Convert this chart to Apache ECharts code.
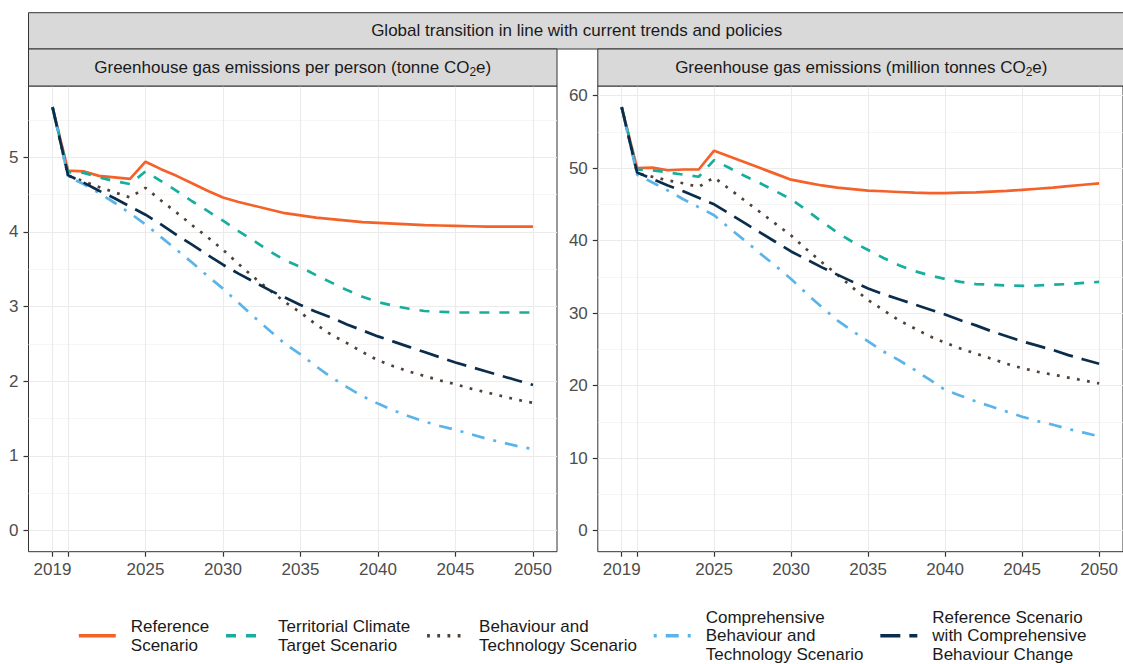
<!DOCTYPE html>
<html>
<head>
<meta charset="utf-8">
<script src="https://cdn.jsdelivr.net/npm/echarts@6/dist/echarts.min.js"></script>
<style>
  html, body { margin: 0; padding: 0; background: #fff; }
  #chart { width: 1123px; height: 664px; }
</style>
</head>
<body>
<div id="chart"></div>
<script>
// years on the x axis
const years = [2019, 2020, 2021, 2022, 2023, 2024, 2025, 2026, 2027, 2028, 2029, 2030,
  2031, 2032, 2033, 2034, 2035, 2036, 2037, 2038, 2039, 2040,
  2041, 2042, 2043, 2044, 2045, 2046, 2047, 2048, 2049, 2050];

const scenarioLabels = [
  'Reference\nScenario',
  'Territorial Climate\nTarget Scenario',
  'Behaviour and\nTechnology Scenario',
  'Comprehensive\nBehaviour and\nTechnology Scenario',
  'Reference Scenario\nwith Comprehensive\nBehaviour Change',
];

// per person (tonne CO2e)
const perPersonRef = [5.67, 4.82, 4.81, 4.75, 4.73, 4.71, 4.94, 4.84, 4.75, 4.65, 4.55, 4.46,
  4.40, 4.35, 4.30, 4.25, 4.22, 4.19, 4.17, 4.15, 4.13, 4.12,
  4.11, 4.10, 4.09, 4.085, 4.08, 4.075, 4.07, 4.07, 4.07, 4.07];
const perPersonTct = [5.67, 4.80, 4.79, 4.73, 4.68, 4.64, 4.81, 4.68, 4.55, 4.41, 4.28, 4.15,
  4.01, 3.88, 3.74, 3.62, 3.53, 3.42, 3.32, 3.22, 3.13, 3.06,
  3.01, 2.97, 2.94, 2.93, 2.92, 2.92, 2.92, 2.92, 2.92, 2.92];
const perPersonBt = [5.67, 4.75, 4.68, 4.60, 4.53, 4.46, 4.59, 4.42, 4.26, 4.09, 3.93, 3.76,
  3.57, 3.39, 3.22, 3.06, 2.92, 2.76, 2.62, 2.51, 2.39, 2.28,
  2.20, 2.13, 2.07, 2.01, 1.96, 1.90, 1.85, 1.80, 1.75, 1.71];
const perPersonCbt = [5.67, 4.74, 4.64, 4.52, 4.39, 4.25, 4.10, 3.93, 3.76, 3.59, 3.41, 3.24,
  3.05, 2.86, 2.68, 2.50, 2.36, 2.20, 2.05, 1.92, 1.80, 1.70,
  1.61, 1.53, 1.46, 1.40, 1.35, 1.29, 1.23, 1.18, 1.13, 1.09];
const perPersonRcbc = [5.67, 4.76, 4.66, 4.55, 4.45, 4.34, 4.23, 4.10, 3.96, 3.83, 3.69, 3.56,
  3.44, 3.33, 3.22, 3.12, 3.02, 2.93, 2.85, 2.76, 2.68, 2.60,
  2.53, 2.46, 2.39, 2.32, 2.25, 2.19, 2.13, 2.07, 2.01, 1.95];

// total (million tonnes CO2e)
const totalRef = [58.4, 50.0, 50.05, 49.7, 49.8, 49.8, 52.4, 51.6, 50.8, 50.0, 49.2, 48.4,
  48.0, 47.6, 47.3, 47.1, 46.9, 46.8, 46.7, 46.6, 46.55, 46.55,
  46.6, 46.65, 46.75, 46.85, 47.0, 47.15, 47.3, 47.5, 47.7, 47.9];
const totalTct = [58.4, 49.8, 49.7, 49.4, 49.1, 48.8, 51.1, 50.0, 48.9, 47.9, 46.8, 45.7,
  44.2, 42.6, 41.1, 39.8, 38.7, 37.6, 36.6, 35.8, 35.2, 34.7,
  34.3, 34.0, 33.9, 33.8, 33.75, 33.8, 33.9, 34.0, 34.15, 34.3];
const totalBt = [58.4, 49.3, 48.8, 48.3, 47.9, 47.4, 48.7, 47.1, 45.5, 43.9, 42.3, 40.7,
  38.8, 37.0, 35.3, 33.5, 31.8, 30.4, 29.0, 27.9, 26.8, 25.9,
  25.1, 24.4, 23.7, 23.0, 22.4, 21.9, 21.5, 21.1, 20.7, 20.3];
const totalCbt = [58.4, 49.1, 48.0, 46.9, 45.7, 44.6, 43.5, 41.7, 40.0, 38.2, 36.5, 34.7,
  32.7, 30.8, 29.0, 27.5, 26.1, 24.7, 23.5, 22.2, 20.8, 19.4,
  18.6, 17.8, 17.1, 16.4, 15.7, 15.1, 14.6, 14.0, 13.5, 13.0];
const totalRcbc = [58.4, 49.4, 48.5, 47.6, 46.8, 45.9, 45.0, 43.7, 42.4, 41.1, 39.8, 38.5,
  37.4, 36.3, 35.3, 34.3, 33.4, 32.6, 31.9, 31.2, 30.5, 29.8,
  29.0, 28.3, 27.5, 26.8, 26.1, 25.5, 24.9, 24.2, 23.6, 23.0];

const xTicks = [2019, 2020, 2025, 2030, 2035, 2040, 2045, 2050];
const xLabels = [2019, 2025, 2030, 2035, 2040, 2045, 2050];
const yTicksLeft = [0, 1, 2, 3, 4, 5];
const yMinorLeft = [0.5, 1.5, 2.5, 3.5, 4.5, 5.5];
const yTicksRight = [0, 10, 20, 30, 40, 50, 60];
const yMinorRight = [5, 15, 25, 35, 45, 55];

const colors = ['#F4622A', '#17AE9E', '#4F4137', '#5AB4EA', '#0B2D4C'];
const dashes = ['solid', [10, 10], [2.8, 7.4], [3, 9, 13, 9], [20, 9]];

const FONT = 'Liberation Sans, Arial, sans-serif';
const chart = echarts.init(document.getElementById('chart'), null, { renderer: 'svg' });

// ggplot-like expansion of 5% on each side
const expand = (lo, hi) => {
  const d = (hi - lo) * 0.05;
  return [lo - d, hi + d];
};
const xr = expand(2019, 2050);
const yl = expand(0, 5.67);
const yr = expand(0, 58.4);

const grids = [
  { left: 28.5, top: 86, width: 528.5, height: 465.7 },
  { left: 597.8, top: 86, width: 527, height: 465.7 },
];

const tickStyle = { color: '#333', width: 1.2 };
const mkX = (gi) => ({
  type: 'value', gridIndex: gi, min: xr[0], max: xr[1], position: 'bottom',
  axisLine: { show: false, onZero: false },
  axisTick: { show: true, length: 5, lineStyle: tickStyle, customValues: xTicks },
  axisLabel: { customValues: xLabels, margin: 9, color: '#4D4D4D', fontSize: 17, fontFamily: FONT,
    formatter: (v) => String(v) },
  splitLine: { show: true, lineStyle: { color: '#EBEBEB', width: 1.1 } },
});
const mkY = (gi, r, ticks) => ({
  type: 'value', gridIndex: gi, min: r[0], max: r[1], position: 'left',
  axisLine: { show: false, onZero: false },
  axisTick: { show: true, length: 5, lineStyle: tickStyle, customValues: ticks },
  axisLabel: { customValues: ticks, margin: 10, color: '#4D4D4D', fontSize: 17, fontFamily: FONT },
  splitLine: { show: true, lineStyle: { color: '#EBEBEB', width: 1.1 } },
});
const mkMinor = (gi, r, ticks) => ({
  type: 'value', gridIndex: gi, min: r[0], max: r[1], position: 'left',
  axisLine: { show: false, onZero: false },
  axisTick: { show: false, customValues: ticks },
  axisLabel: { show: false, customValues: ticks },
  splitLine: { show: true, lineStyle: { color: '#F2F2F2', width: 0.8 } },
});

const panelData = [
  [perPersonRef, perPersonTct, perPersonBt, perPersonCbt, perPersonRcbc],
  [totalRef, totalTct, totalBt, totalCbt, totalRcbc],
];
const series = [];
panelData.forEach((sets, gi) => {
  sets.forEach((vals, si) => {
    series.push({
      type: 'line', name: scenarioLabels[si], xAxisIndex: gi, yAxisIndex: gi,
      data: years.map((y, i) => [y, vals[i]]),
      showSymbol: false, symbol: 'none', silent: true,
      lineStyle: { color: colors[si], width: 2.7, type: dashes[si], cap: 'butt' },
      itemStyle: { color: colors[si] },
      z: 3 + si,
    });
  });
});

const subRich = {
  sub: { fontSize: 12, fontFamily: FONT, fill: '#1A1A1A', verticalAlign: 'bottom', lineHeight: 12 },
};
const strip = (x, y, w, h, text) => [
  { type: 'rect', shape: { x, y, width: w, height: h }, style: { fill: '#D9D9D9', stroke: '#333', lineWidth: 1 }, z: 10 },
  { type: 'text', x: x + w / 2, y: y + h / 2, z: 11,
    style: { text, textAlign: 'center', textVerticalAlign: 'middle', fontSize: 17, fontFamily: FONT,
      fill: '#1A1A1A', lineHeight: 20, rich: subRich } },
];

chart.setOption({
  animation: false,
  grid: grids.map((g) => Object.assign({ show: true, borderColor: '#333', borderWidth: 1, backgroundColor: 'transparent' }, g)),
  xAxis: [mkX(0), mkX(1)],
  yAxis: [mkY(0, yl, yTicksLeft), mkY(1, yr, yTicksRight), mkMinor(0, yl, yMinorLeft), mkMinor(1, yr, yMinorRight)],
  legend: {
    data: scenarioLabels, left: 77, top: 608, padding: 0, itemGap: 15,
    itemWidth: 37, itemHeight: 14, selectedMode: false,
    itemStyle: { opacity: 0, borderWidth: 0 },
    lineStyle: { width: 3.6 },
    textStyle: { fontSize: 17, fontFamily: FONT, color: '#1A1A1A', lineHeight: 18.5, padding: [0, 0, 0, 10] },
  },
  graphic: [
    ...strip(28.5, 12.7, 1096.3, 36.3, 'Global transition in line with current trends and policies'),
    ...strip(28.5, 49, 528.5, 37, 'Greenhouse gas emissions per person (tonne CO{sub|2}e)'),
    ...strip(597.8, 49, 527, 37, 'Greenhouse gas emissions (million tonnes CO{sub|2}e)'),
  ],
  series,
});
</script>
</body>
</html>
